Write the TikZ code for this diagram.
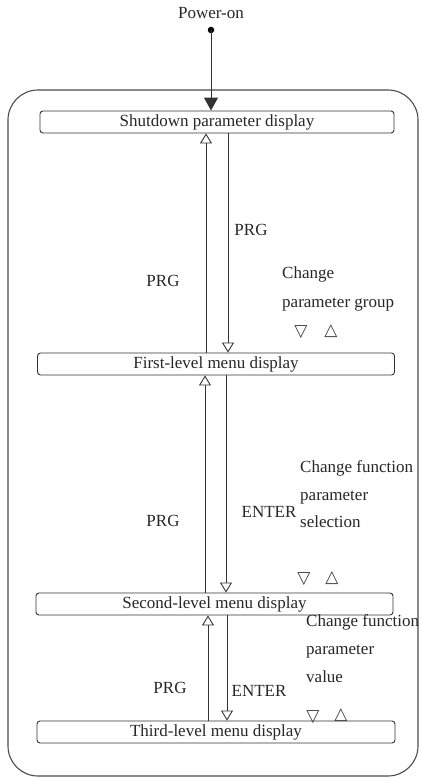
\documentclass[tikz,border=0pt]{standalone}
\usepackage{fontspec}
\setmainfont{Liberation Serif}
\newfontfamily\symfont{DejaVu Sans}
\usetikzlibrary{arrows.meta}
\begin{document}
\begin{tikzpicture}[x=1pt,y=-1pt,
  every node/.style={font=\fontsize{17}{20}\selectfont, text=black!85},
  menubox/.style={draw=black!80, line width=0.9pt, rounded corners=3pt, minimum height=22pt, inner sep=0pt},
  lbl/.style={inner sep=0pt, anchor=mid},
  lblw/.style={inner sep=0pt, anchor=mid west},
  sym/.style={inner sep=0pt, font=\symfont\fontsize{17}{20}\selectfont, text=black!75},
  uparr/.style={draw=black!80, line width=0.9pt, -{Triangle[open,width=12pt,length=10pt,line width=0.9pt]}},
  powarr/.style={draw=black!80, line width=1pt, -{Triangle[width=14pt,length=13pt]}},
  outer/.style={draw=black!70, line width=1.1pt, rounded corners=30pt}]
\useasboundingbox (0,0) rectangle (421,778);

% outer frame
\draw[outer] (8,90) rectangle (418,776);

% menu boxes
\node[menubox, minimum width=354pt] (sd) at (217,122) {Shutdown parameter display};
\node[menubox, minimum width=357pt] (fl) at (216,364) {First-level menu display};
\node[menubox, minimum width=357pt] (sl) at (214.5,604) {Second-level menu display};
\node[menubox, minimum width=358pt] (tl) at (216,732) {Third-level menu display};

% power-on
\node[lbl] (pon) at (211,16) {Power-on};
\node[circle, fill=black, inner sep=0pt, minimum size=6.5pt] (pdot) at (211,30) {};
\draw[powarr] (pdot.center) -- (sd.north -| pdot);

% column coordinates
\coordinate (u1) at (206,0);
\coordinate (d1) at (228,0);
\coordinate (u2) at (205,0);
\coordinate (d2) at (226,0);
\coordinate (u3) at (208,0);
\coordinate (d3) at (227,0);

% connectors
\draw[uparr] (fl.north -| u1) -- (sd.south -| u1);
\draw[uparr] (sd.south -| d1) -- (fl.north -| d1);
\draw[uparr] (sl.north -| u2) -- (fl.south -| u2);
\draw[uparr] (fl.south -| d2) -- (sl.north -| d2);
\draw[uparr] (tl.north -| u3) -- (sl.south -| u3);
\draw[uparr] (sl.south -| d3) -- (tl.north -| d3);

% labels, first section
\node[lbl] (prg1) at (163,284) {PRG};
\node[lbl] (prg2) at (251,233) {PRG};
\node[lblw] (cg1) at (282,276) {Change};
\node[lblw] (cg2) at (282,305) {parameter group};
\node[sym] (dn1) at (301,332) {▽};
\node[sym] (up1) at (331,331) {△};

% labels, second section
\node[lbl] (prg3) at (163,524) {PRG};
\node[lbl] (ent1) at (269,515) {ENTER};
\node[lblw] (cf1) at (300,470) {Change function};
\node[lblw] (cf2) at (300,498) {parameter};
\node[lblw] (cf3) at (300,525) {selection};
\node[sym] (dn2) at (304,579) {▽};
\node[sym] (up2) at (332,578) {△};

% labels, third section
\node[lbl] (prg4) at (170,691) {PRG};
\node[lbl] (ent2) at (259,694) {ENTER};
\node[lblw] (cv1) at (306,624) {Change function};
\node[lblw] (cv2) at (306,652) {parameter};
\node[lblw] (cv3) at (306,680) {value};
\node[sym] (dn3) at (313,717) {▽};
\node[sym] (up3) at (341,715) {△};
\end{tikzpicture}
\end{document}
